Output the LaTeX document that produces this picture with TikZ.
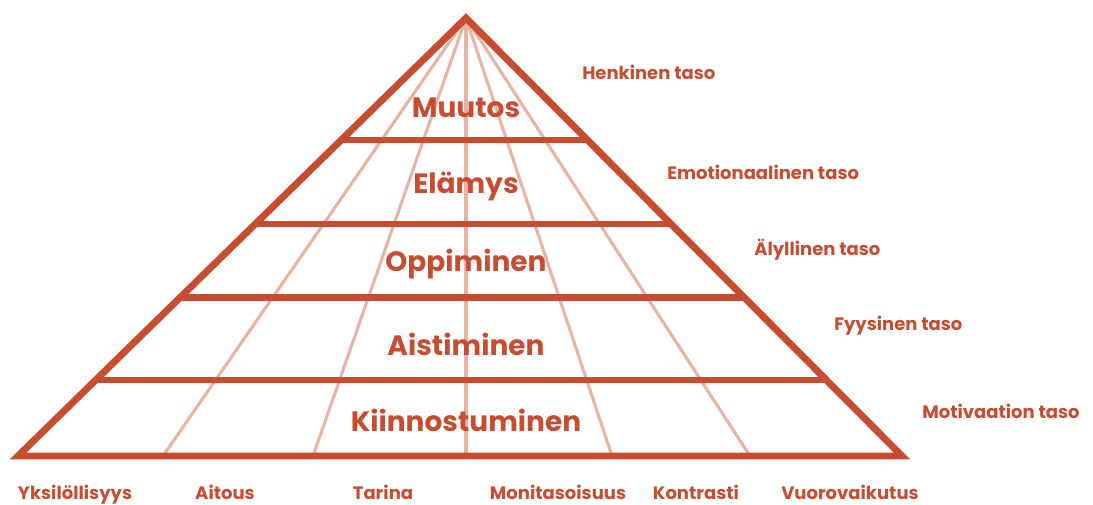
\documentclass[tikz,border=0pt]{standalone}
\usepackage{fontspec}
\setmainfont{Poppins}
\usetikzlibrary{calc}
\definecolor{rust}{RGB}{200,76,48}
\definecolor{salmon}{RGB}{234,178,162}
\tikzset{
  tier/.style={font=\fontsize{21}{24}\selectfont\bfseries, text=rust},
  sidelabel/.style={font=\fontsize{13.5}{16}\selectfont\bfseries, text=rust, right, inner sep=0pt},
  footlabel/.style={font=\fontsize{13.5}{16}\selectfont\bfseries, text=rust, inner sep=0pt, text depth=0pt, anchor=base},
  ray/.style={draw=salmon, line width=2.3pt},
  band/.style={draw=rust, line width=5.2pt},
}

\begin{document}
\begin{tikzpicture}[x=0.75pt, y=-0.75pt]
\useasboundingbox (0,0) rectangle (1093,504);

\coordinate (top) at (466,18);
\coordinate (bl) at (18,456);
\coordinate (br) at (902,456);

% rays from the top
\foreach \x [count=\i] in {163,313,466,612,750} {
  \coordinate (r\i) at (\x,456);
  \draw[ray] (top) -- (r\i);
}

% bands between the levels
\foreach \t in {0.2785,0.4703,0.639,0.8265} {
  \draw[band] ($(top)!\t!(bl)$) -- ($(top)!\t!(br)$);
}

\draw[band, line join=miter] (top) -- (bl) -- (br) -- cycle;

\node[tier] (muutos) at (466,108) {Muutos};
\node[tier] (elamys) at (466,186) {Elämys};
\node[tier] (oppiminen) at (466,264) {Oppiminen};
\node[tier] (aistiminen) at (466,344) {Aistiminen};
\node[tier] (kiinnostuminen) at (466,420) {Kiinnostuminen};

\node[sidelabel] (henkinen) at (582,72) {Henkinen taso};
\node[sidelabel] (emotio) at (667,172) {Emotionaalinen taso};
\node[sidelabel] (alyl) at (754,250) {Älyllinen taso};
\node[sidelabel] (fyys) at (834,326) {Fyysinen taso};
\node[sidelabel] (motiv) at (922,411) {Motivaation taso};

\node[footlabel] (yksil) at (75,499) {Yksilöllisyys};
\node[footlabel] (aitous) at (225,499) {Aitous};
\node[footlabel] (tarina) at (383,499) {Tarina};
\node[footlabel] (monit) at (558,499) {Monitasoisuus};
\node[footlabel] (kontr) at (696,499) {Kontrasti};
\node[footlabel] (vuoro) at (850,499) {Vuorovaikutus};

\end{tikzpicture}
\end{document}
